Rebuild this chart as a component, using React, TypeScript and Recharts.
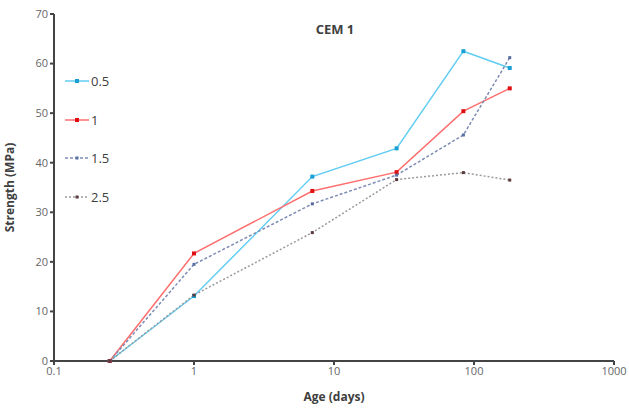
import React from 'react'
import { LineChart, Line, XAxis, YAxis, Label } from 'recharts'

// ages in days
const ages = [0.25, 1, 7, 28, 84, 180]
const s05 = [0, 13.1, 37.2, 42.9, 62.5, 59.1]
const s1 = [0, 21.7, 34.3, 38.1, 50.4, 55.0]
const s15 = [0, 19.5, 31.7, 37.5, 45.6, 61.2]
const s25 = [0, 13.3, 25.9, 36.6, 38.0, 36.5]

const xTicks = [0.1, 1, 10, 100, 1000]
const yTicks = [0, 10, 20, 30, 40, 50, 60, 70]

const series = [
  { key: 's05', name: '0.5', line: '#62cdf2', mark: '#1a9fd4', dash: undefined, size: 4 },
  { key: 's1', name: '1', line: '#ff6e6e', mark: '#e01010', dash: undefined, size: 4 },
  { key: 's15', name: '1.5', line: '#7d8cb4', mark: '#5a6da0', dash: '3 2', size: 3 },
  { key: 's25', name: '2.5', line: '#9a9a9a', mark: '#5a3a3a', dash: '2 2', size: 3 },
]

const data = ages.map((age, i) => ({
  age,
  s05: s05[i],
  s1: s1[i],
  s15: s15[i],
  s25: s25[i],
}))

const font = '"Open Sans", "Liberation Sans", sans-serif'

const makeDot = (color: string, size: number) => (props: any) => {
  const { cx, cy, index } = props
  return <rect key={index} x={cx - size / 2} y={cy - size / 2} width={size} height={size} fill={color} />
}

// legend drawn as overlay so it doesn't shrink the plot area
const LegendBox = () => (
  <div style={{ position: 'absolute', left: 64, top: 62, fontFamily: font, fontSize: 13, color: '#404040' }}>
    {series.map((s) => (
      <div key={s.key} style={{ display: 'flex', alignItems: 'center', height: 38.6 }}>
        <svg width={26} height={10}>
          <line x1={1} y1={5} x2={25} y2={5} stroke={s.line} strokeWidth={1.5} strokeDasharray={s.dash} />
          <rect x={13 - s.size / 2} y={5 - s.size / 2} width={s.size} height={s.size} fill={s.mark} />
        </svg>
        <span style={{ marginLeft: 1 }}>{s.name}</span>
      </div>
    ))}
  </div>
)

export default function App() {
  return (
    <div style={{ position: 'absolute', left: 0, top: 0, width: 629, height: 413, background: '#fff' }}>
      <LineChart width={629} height={413} data={data} margin={{ top: 14, right: 15, bottom: 12, left: 0 }}>
        <XAxis
          dataKey="age"
          type="number"
          scale="log"
          domain={[0.1, 1000]}
          ticks={xTicks}
          allowDataOverflow
          stroke="#444"
          strokeWidth={2}
          tickSize={4}
          tick={{ fontSize: 11, fill: '#666', fontFamily: font }}
          tickFormatter={(v) => String(v)}
          height={40}
        >
          <Label value="Age (days)" position="insideBottom" offset={0} style={{ fontSize: 12, fontWeight: 'bold', fill: '#404040', fontFamily: font }} />
        </XAxis>
        <YAxis
          type="number"
          domain={[0, 70]}
          ticks={yTicks}
          stroke="#444"
          strokeWidth={2}
          tickSize={4}
          width={54}
          tick={{ fontSize: 11, fill: '#666', fontFamily: font }}
        >
          <Label value="Strength (MPa)" angle={-90} position="insideLeft" offset={10} style={{ textAnchor: 'middle', fontSize: 12, fontWeight: 'bold', fill: '#404040', fontFamily: font }} />
        </YAxis>
        {series.map((s) => (
          <Line
            key={s.key}
            dataKey={s.key}
            name={s.name}
            type="linear"
            stroke={s.line}
            strokeWidth={1.5}
            strokeDasharray={s.dash}
            dot={makeDot(s.mark, s.size)}
            activeDot={false}
            isAnimationActive={false}
          />
        ))}
        <text x={335} y={34} textAnchor="middle" style={{ fontSize: 13, fontWeight: 'bold', fill: '#404040', fontFamily: font }}>
          CEM 1
        </text>
      </LineChart>
      <LegendBox />
    </div>
  )
}
